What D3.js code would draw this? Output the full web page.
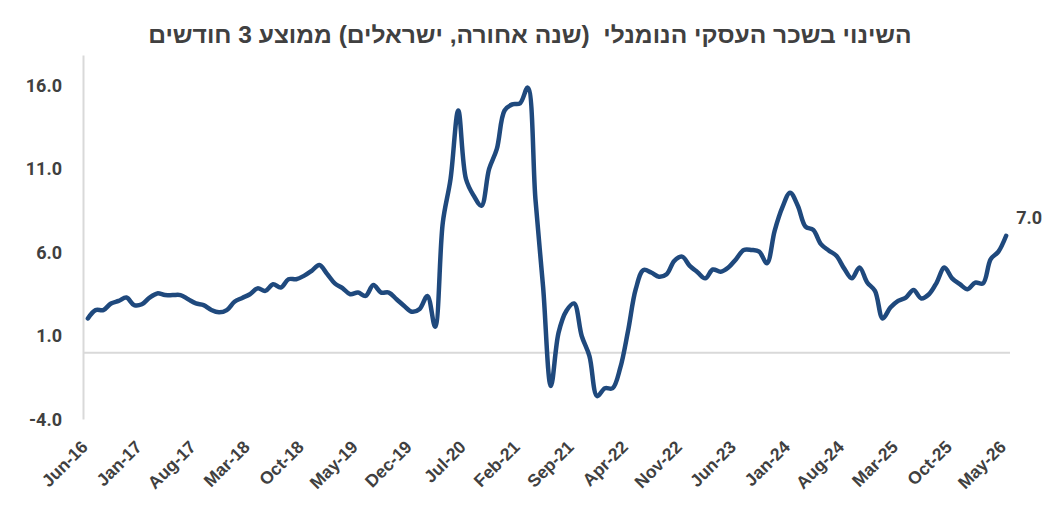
<!DOCTYPE html>
<html>
<head>
<meta charset="utf-8">
<script src="https://cdn.jsdelivr.net/npm/d3@7"></script>
<style>
  body { margin: 0; background: #fff; }
  svg { display: block; }
</style>
</head>
<body>
<svg id="chart"></svg>
<script>
// monthly values, Jun-16 .. May-26
const values = [
  2.05, 2.55, 2.55, 2.95, 3.1, 3.3, 2.85, 2.9, 3.3, 3.55, 3.45, 3.45,
  3.45, 3.2, 2.95, 2.85, 2.56, 2.42, 2.55, 3.05, 3.28, 3.5, 3.85, 3.7,
  4.1, 3.9, 4.4, 4.4, 4.6, 4.9, 5.25, 4.72, 4.15, 3.87, 3.5, 3.6,
  3.4, 4.05, 3.6, 3.6, 3.2, 2.8, 2.45, 2.62, 3.4, 1.55, 7.8, 10.4,
  14.5, 10.4, 9.4, 8.8, 11.0, 12.2, 14.5, 14.87, 14.93, 15.87, 9.2, 3.9,
  -2.0, 1.2, 2.5, 2.95, 1.0, -0.2, -2.6, -2.13, -2.13, -0.9, 1.3, 3.8,
  4.95, 4.8, 4.55, 4.7, 5.5, 5.75, 5.2, 4.82, 4.45, 4.98, 4.85, 5.1,
  5.6, 6.15, 6.15, 6.05, 5.35, 7.3, 8.7, 9.58, 8.8, 7.55, 7.35, 6.5,
  6.12, 5.8, 5.05, 4.45, 5.1, 4.2, 3.7, 2.05, 2.7, 3.1, 3.3, 3.75,
  3.25, 3.5, 4.2, 5.1, 4.45, 4.1, 3.8, 4.2, 4.15, 5.6, 6.05, 7.0
]

const tickLabels = ['Jun-16', 'Jan-17', 'Aug-17', 'Mar-18', 'Oct-18', 'May-19', 'Dec-19',
  'Jul-20', 'Feb-21', 'Sep-21', 'Apr-22', 'Nov-22', 'Jun-23', 'Jan-24', 'Aug-24',
  'Mar-25', 'Oct-25', 'May-26']

const yTicks = [-4, 1, 6, 11, 16]

const title = 'השינוי בשכר העסקי הנומנלי  (שנה אחורה, ישראלים) ממוצע 3 חודשים'

// categories: one per month
const fmt = d3.timeFormat('%b-%y')
const months = d3.timeMonth.range(new Date(2016, 5, 1), new Date(2026, 5, 1)).map(fmt)

const width = 1058, height = 526
const svg = d3.select('#chart').attr('width', width).attr('height', height)

const x = d3.scalePoint().domain(months).range([84, 1010]).padding(0.5)
const y = d3.scaleLinear().domain([-4, 17.8]).range([419.5, 55.4])

const textColor = '#404040'
const gridColor = '#d9d9d9'

// title, squeezed to the width of the condensed original
const t = svg.append('text')
  .attr('x', 530)
  .attr('y', 43)
  .attr('text-anchor', 'middle')
  .attr('direction', 'rtl')
  .attr('font-family', '"Liberation Sans Narrow", "Liberation Sans", Arial, sans-serif')
  .attr('font-weight', 'bold')
  .attr('font-size', 23)
  .attr('fill', textColor)
  .style('white-space', 'pre')
  .text(title)
const w = t.node().getComputedTextLength()
t.attr('transform', `translate(530,0) scale(${764 / w},1) translate(-530,0)`)

// y axis line and zero line
svg.append('line')
  .attr('x1', 83.5).attr('x2', 83.5)
  .attr('y1', y.range()[1]).attr('y2', y.range()[0])
  .attr('stroke', gridColor).attr('stroke-width', 2)

svg.append('line')
  .attr('x1', 84).attr('x2', 1010)
  .attr('y1', y(0)).attr('y2', y(0))
  .attr('stroke', gridColor).attr('stroke-width', 2)

svg.selectAll('text.ytick')
  .data(yTicks)
  .enter()
  .append('text')
  .attr('class', 'ytick')
  .attr('x', 62)
  .attr('y', d => y(d))
  .attr('dy', '0.36em')
  .attr('text-anchor', 'end')
  .attr('font-family', 'Roboto, sans-serif')
  .attr('font-weight', 'bold')
  .attr('font-size', 18)
  .attr('fill', textColor)
  .text(d => d.toFixed(1))

svg.selectAll('text.xtick')
  .data(tickLabels)
  .enter()
  .append('text')
  .attr('class', 'xtick')
  .attr('transform', d => `translate(${x(d) + 1},${448}) rotate(-45)`)
  .attr('text-anchor', 'end')
  .attr('font-family', '"Liberation Sans", Arial, sans-serif')
  .attr('font-weight', 'bold')
  .attr('font-size', 17.5)
  .attr('fill', textColor)
  .text(d => d)

// the series
const line = d3.line()
  .x((d, i) => x(months[i]))
  .y(d => y(d))
  .curve(d3.curveCatmullRom.alpha(0.5))

svg.append('path')
  .datum(values)
  .attr('d', line)
  .attr('fill', 'none')
  .attr('stroke', '#1F497D')
  .attr('stroke-width', 4.5)
  .attr('stroke-linejoin', 'round')
  .attr('stroke-linecap', 'round')

// label on the last point
const last = values.length - 1
svg.append('text')
  .attr('x', x(months[last]) + 10)
  .attr('y', y(values[last]) - 12)
  .attr('font-family', 'Roboto, sans-serif')
  .attr('font-weight', 'bold')
  .attr('font-size', 18)
  .attr('fill', textColor)
  .text(values[last].toFixed(1))
</script>
</body>
</html>
